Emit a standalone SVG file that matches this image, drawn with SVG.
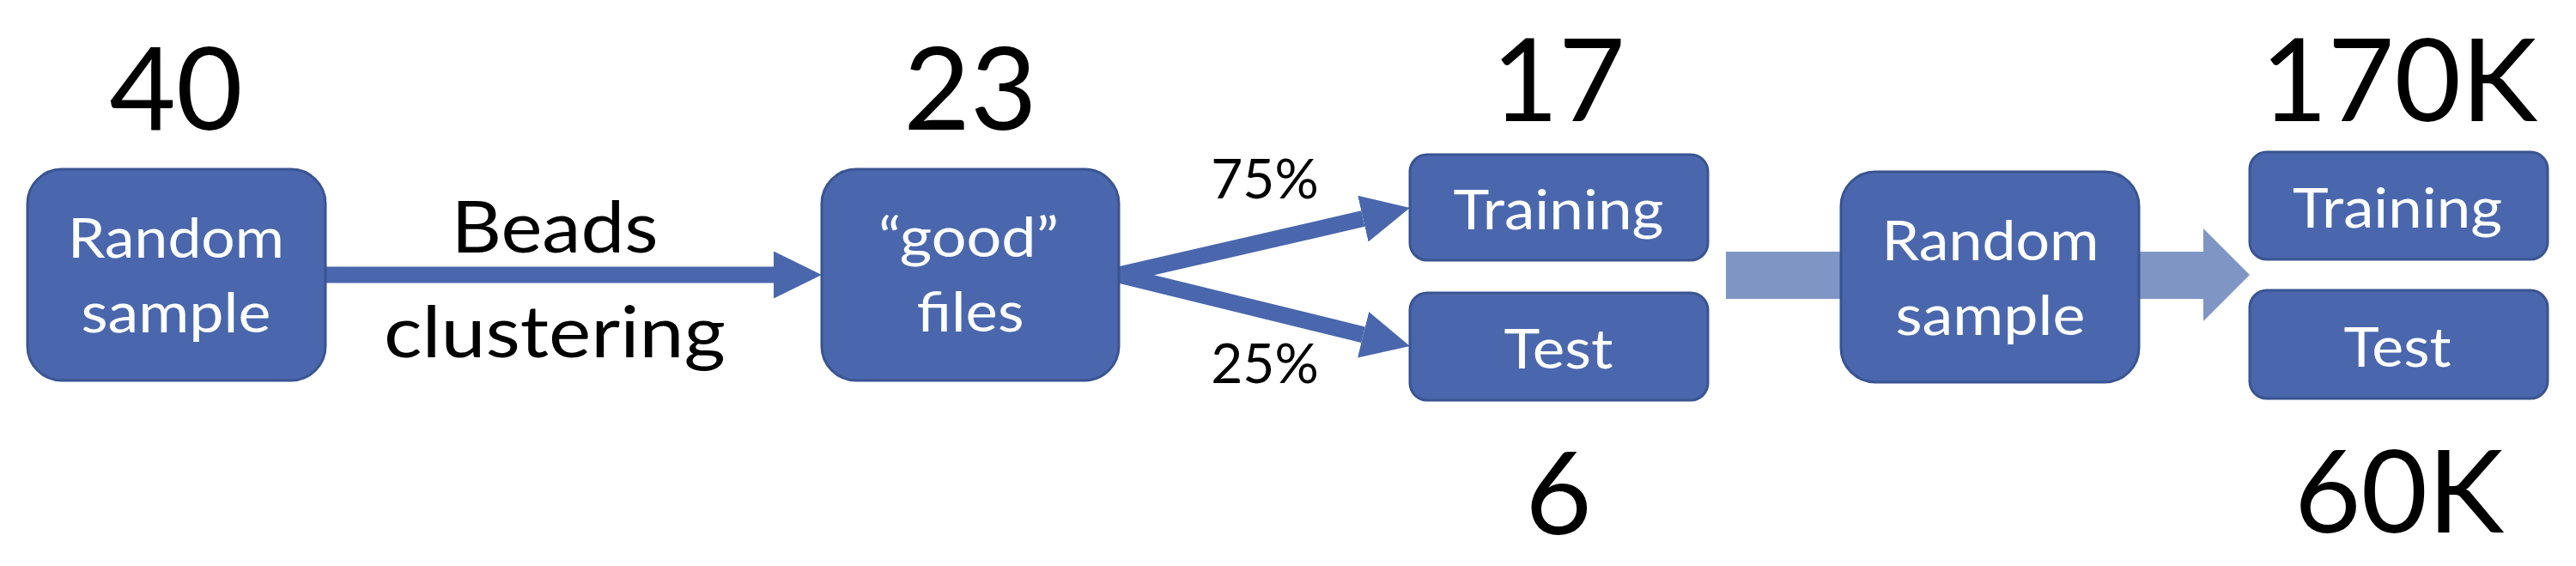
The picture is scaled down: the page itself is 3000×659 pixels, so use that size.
<svg xmlns="http://www.w3.org/2000/svg" width="3000" height="659" viewBox="0 0 3000 659">
<style>
.box{fill:#4A67AD;stroke:#3A5492;stroke-width:3}
.wt{fill:#FFFFFF;font-family:Lato,"Open Sans","Liberation Sans",sans-serif;font-size:63px;text-anchor:middle}
.num{fill:#000000;font-family:Lato,"Open Sans","Liberation Sans",sans-serif;font-size:134px;text-anchor:middle}
.lbl{fill:#000000;font-family:Lato,"Open Sans","Liberation Sans",sans-serif;font-size:84px;text-anchor:middle}
.pct{fill:#000000;font-family:Lato,"Open Sans","Liberation Sans",sans-serif;font-size:64px;text-anchor:middle}
.ln{stroke:#4A67AD;stroke-width:19;fill:none}
</style>
<defs>
<marker id="ah" markerUnits="userSpaceOnUse" markerWidth="60" markerHeight="60" refX="0" refY="27.5" orient="auto">
<path d="M0,0 L56,27.5 L0,55 Z" fill="#4A67AD"/>
</marker>
</defs>
<rect width="3000" height="659" fill="#FFFFFF"/>
<g id="connectors">
<line class="ln" x1="379" y1="320" x2="901" y2="320" marker-end="url(#ah)"/>
<line class="ln" x1="1303" y1="320" x2="1587.4" y2="254.6" marker-end="url(#ah)"/>
<line class="ln" x1="1303" y1="320" x2="1587.6" y2="389.7" marker-end="url(#ah)"/>
<polygon points="2010,293 2566,293 2566,266 2620,320 2566,374 2566,348 2010,348" fill="#7F96C5"/>
<text class="lbl" x="646" y="294" textLength="241" lengthAdjust="spacingAndGlyphs">Beads</text>
<text class="lbl" x="646" y="416" textLength="398" lengthAdjust="spacingAndGlyphs">clustering</text>
<text class="pct" x="1473" y="231">75%</text>
<text class="pct" x="1473" y="446">25%</text>
</g>
<g id="n1">
<text class="num" x="205" y="151">40</text>
<rect class="box" x="32" y="197" width="347" height="246" rx="40" ry="40"/>
<text class="wt" x="205" y="300" textLength="252" lengthAdjust="spacingAndGlyphs">Random</text>
<text class="wt" x="205" y="387" textLength="221" lengthAdjust="spacingAndGlyphs">sample</text>
</g>
<g id="n2">
<text class="num" x="1130" y="151">23</text>
<rect class="box" x="957" y="197" width="346" height="246" rx="40" ry="40"/>
<text class="wt" x="1128" y="299" textLength="210" lengthAdjust="spacingAndGlyphs">“good”</text>
<text class="wt" x="1130" y="386" textLength="125" lengthAdjust="spacingAndGlyphs">files</text>
</g>
<g id="n3">
<text class="num" x="1815" y="141">17</text>
<rect class="box" x="1642" y="180" width="347" height="123" rx="20" ry="20"/>
<text class="wt" x="1815" y="267" textLength="245" lengthAdjust="spacingAndGlyphs">Training</text>
</g>
<g id="n4">
<rect class="box" x="1642" y="341" width="347" height="125" rx="20" ry="20"/>
<text class="wt" x="1815" y="429" textLength="127" lengthAdjust="spacingAndGlyphs">Test</text>
<text class="num" x="1815" y="622">6</text>
</g>
<g id="n5">
<rect class="box" x="2144" y="200" width="347" height="245" rx="40" ry="40"/>
<text class="wt" x="2318" y="303" textLength="253" lengthAdjust="spacingAndGlyphs">Random</text>
<text class="wt" x="2318" y="390" textLength="221" lengthAdjust="spacingAndGlyphs">sample</text>
</g>
<g id="n6">
<text class="num" x="2794" y="141">170K</text>
<rect class="box" x="2620" y="177" width="347" height="125" rx="20" ry="20"/>
<text class="wt" x="2792" y="265" textLength="244" lengthAdjust="spacingAndGlyphs">Training</text>
</g>
<g id="n7">
<rect class="box" x="2620" y="338" width="347" height="126" rx="20" ry="20"/>
<text class="wt" x="2792" y="427" textLength="125" lengthAdjust="spacingAndGlyphs">Test</text>
<text class="num" x="2794" y="620">60K</text>
</g>
</svg>
